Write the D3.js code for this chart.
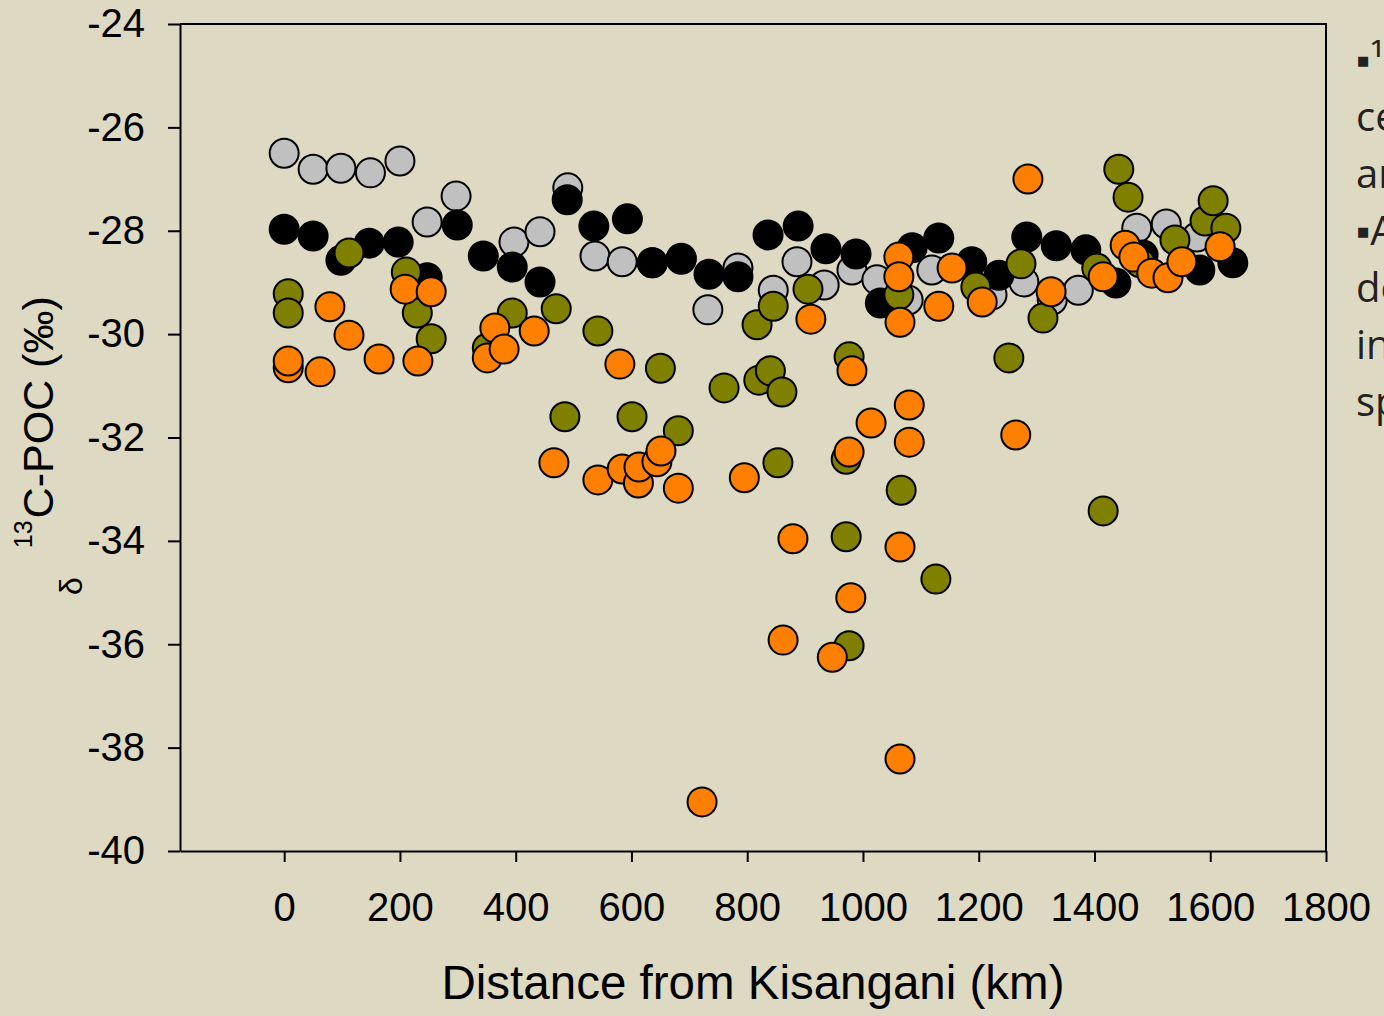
<!DOCTYPE html>
<html>
<head>
<meta charset="utf-8">
<script src="https://cdn.jsdelivr.net/npm/d3@7"></script>
<style>
  html, body { margin: 0; padding: 0; background: #DDD9C3; overflow: hidden; }
  svg { display: block; }
  .axis text { font-family: "Liberation Sans", Arial, sans-serif; font-size: 40px; fill: #000; }
</style>
</head>
<body>
<script>
// distance from Kisangani (km) and d13C-POC (permil), one pair of arrays per series
var greyDist = [0, 50, 98, 149, 200, 247, 297, 397, 442, 490, 537, 584, 636, 686, 732, 784, 845, 886, 933, 981, 1024, 1078, 1119, 1223, 1278, 1327, 1372, 1473, 1524, 1577]
var greyVal = [-26.50, -26.81, -26.79, -26.88, -26.65, -27.83, -27.33, -28.22, -28.02, -27.17, -28.49, -28.60, -28.62, -28.55, -29.53, -28.72, -29.15, -28.60, -29.05, -28.76, -28.95, -29.34, -28.76, -29.24, -28.99, -29.34, -29.15, -27.95, -27.87, -28.12]

var blackDist = [0, 50, 98, 147, 197, 247, 299, 344, 394, 442, 489, 535, 593, 636, 686, 734, 784, 836, 888, 936, 988, 1030, 1085, 1131, 1188, 1235, 1283, 1334, 1385, 1437, 1484, 1582, 1639]
var blackVal = [-27.97, -28.10, -28.57, -28.24, -28.22, -28.91, -27.89, -28.49, -28.70, -28.99, -27.40, -27.91, -27.77, -28.62, -28.53, -28.84, -28.89, -28.08, -27.91, -28.35, -28.45, -29.40, -28.33, -28.14, -28.60, -28.86, -28.12, -28.29, -28.37, -29.01, -28.47, -28.76, -28.62]

var oliveDist = [7, 7, 112, 211, 230, 254, 351, 394, 470, 542, 485, 601, 650, 681, 760, 817, 820, 840, 860, 845, 905, 853, 971, 971, 976, 976, 1062, 1066, 1126, 1195, 1252, 1273, 1311, 1404, 1415, 1442, 1458, 1479, 1539, 1591, 1605, 1627]
var oliveVal = [-29.22, -29.59, -28.43, -28.80, -29.59, -30.09, -30.27, -29.59, -29.51, -29.94, -31.60, -31.60, -30.66, -31.87, -31.04, -29.82, -30.89, -30.71, -31.12, -29.46, -29.13, -32.49, -32.42, -33.92, -36.03, -30.44, -29.24, -33.02, -34.74, -29.09, -30.46, -28.64, -29.69, -28.72, -33.42, -26.81, -27.35, -28.62, -28.18, -27.81, -27.42, -27.95]

var orangeDist = [7, 7, 62, 79, 112, 164, 209, 231, 254, 351, 364, 380, 432, 466, 542, 580, 584, 612, 613, 644, 651, 681, 722, 795, 879, 862, 910, 947, 979, 981, 976, 1014, 1064, 1064, 1062, 1062, 1064, 1080, 1080, 1131, 1154, 1206, 1264, 1285, 1325, 1415, 1453, 1468, 1499, 1527, 1551, 1617]
var orangeVal = [-30.65, -30.52, -30.73, -29.47, -30.02, -30.48, -29.13, -30.52, -29.18, -30.46, -29.88, -30.29, -29.94, -32.49, -32.82, -30.58, -32.61, -32.88, -32.57, -32.47, -32.26, -32.98, -39.05, -32.78, -33.96, -35.92, -29.71, -36.25, -35.10, -30.71, -32.28, -31.72, -34.12, -38.22, -28.51, -28.89, -29.77, -31.37, -32.09, -29.46, -28.72, -29.38, -31.95, -27.00, -29.18, -28.89, -28.28, -28.51, -28.82, -28.91, -28.60, -28.31]

var xTicks = [0, 200, 400, 600, 800, 1000, 1200, 1400, 1600, 1800]
var yTicks = [-24, -26, -28, -30, -32, -34, -36, -38, -40]

// right-hand note, cut off by the slide edge
var noteLines = ["\u25AA\u00B9\u00B3", "ce", "ar", "\u25AAA", "de", "in", "sp"]

var w = 1384
var h = 1016

var svg = d3.select("body").append("svg")
    .attr("width", w)
    .attr("height", h)

svg.append("rect")
    .attr("width", w)
    .attr("height", h)
    .attr("fill", "#DDD9C3")

var xScale = d3.scaleLinear().domain([-180, 1800]).range([180, 1326])
var yScale = d3.scaleLinear().domain([-40, -24]).range([851, 24])

// plot frame (top and right)
svg.append("path")
    .attr("d", "M" + xScale(-180) + "," + yScale(-24) + "H" + xScale(1800) + "V" + yScale(-40))
    .attr("fill", "none")
    .attr("stroke", "#000")
    .attr("stroke-width", 2)

var plain = function (d) { return String(d) }

var xAxis = d3.axisBottom(xScale)
    .tickValues(xTicks)
    .tickFormat(plain)
    .tickSize(11)
    .tickPadding(31)
    .tickSizeOuter(0)

var yAxis = d3.axisLeft(yScale)
    .tickValues(yTicks)
    .tickFormat(plain)
    .tickSize(12)
    .tickPadding(23)
    .tickSizeOuter(0)

svg.append("g")
    .attr("class", "axis")
    .attr("transform", "translate(0," + yScale(-40) + ")")
    .call(xAxis)

svg.append("g")
    .attr("class", "axis")
    .attr("transform", "translate(" + xScale(-180) + ",0)")
    .call(yAxis)

svg.selectAll(".axis .domain, .axis line")
    .attr("stroke", "#000")
    .attr("stroke-width", 2)
svg.selectAll(".axis text").attr("font-size", null).attr("font-family", null)

function drawSeries(dist, val, fill) {
    var pts = dist.map(function (d, i) { return [d, val[i]] })
    svg.append("g").selectAll("circle").data(pts).enter()
        .append("circle")
        .attr("cx", function (d) { return xScale(d[0]) })
        .attr("cy", function (d) { return yScale(d[1]) })
        .attr("r", 14.5)
        .attr("fill", fill)
        .attr("stroke", "#000")
        .attr("stroke-width", 2)
}

drawSeries(greyDist, greyVal, "#C0C0C0")
drawSeries(blackDist, blackVal, "#000000")
drawSeries(oliveDist, oliveVal, "#808000")
drawSeries(orangeDist, orangeVal, "#FF8000")

// axis titles
svg.append("text")
    .attr("x", 753)
    .attr("y", 999)
    .attr("text-anchor", "middle")
    .attr("font-family", "Liberation Sans, Arial, sans-serif")
    .attr("font-size", 47.5)
    .text("Distance from Kisangani (km)")

var yt = svg.append("text")
    .attr("transform", "translate(53,595) rotate(-90)")
    .attr("font-family", "Liberation Sans, Arial, sans-serif")
    .attr("font-size", 43)
yt.append("tspan").attr("font-size", 32).attr("dy", 29).text("\u03B4")
yt.append("tspan").attr("font-size", 25).attr("dx", 29).attr("dy", -50).text("13")
yt.append("tspan").attr("dx", 2).attr("dy", 21).text("C-POC (\u2030)")

// note text at right edge
svg.append("g").selectAll("text").data(noteLines).enter()
    .append("text")
    .attr("x", 1356)
    .attr("y", function (d, i) { return 74 + i * 57 })
    .attr("font-family", "Open Sans, Noto Sans, sans-serif")
    .attr("font-size", 40)
    .attr("fill", "#222")
    .text(function (d) { return d })
</script>
</body>
</html>
